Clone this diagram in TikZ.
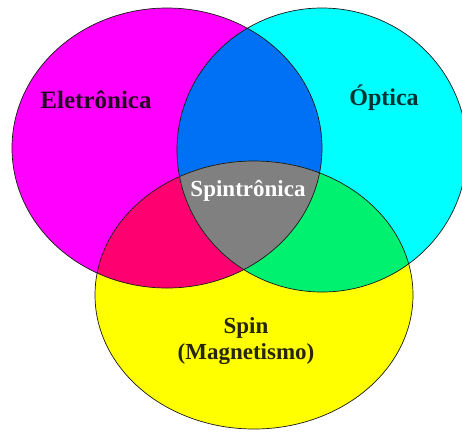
\documentclass[tikz,border=0pt]{standalone}
\usepackage{fontspec}
\setmainfont{Liberation Serif}
\begin{document}
\begin{tikzpicture}[x=1pt,y=-1pt,
  lbl/.style={font=\fontsize{23}{26}\selectfont\bfseries, inner sep=0pt, align=center},
  edge/.style={draw=black!80!gray, line width=0.7pt}]
\useasboundingbox (0,0) rectangle (462,432);
\definecolor{mag}{HTML}{FF00FF}
\definecolor{cya}{HTML}{00FFFF}
\definecolor{yel}{HTML}{FFFF00}
\definecolor{blu}{HTML}{0070F4}
\definecolor{red}{HTML}{FF0070}
\definecolor{grn}{HTML}{00F070}
\definecolor{gry}{HTML}{808080}
\def\pathM{(167,148) ellipse [x radius=155, y radius=140]}
\def\pathC{(322,150) ellipse [x radius=145, y radius=142]}
\def\pathY{(254,295) ellipse [x radius=159, y radius=134]}
% base fills
\fill[mag] \pathM;
\fill[cya] \pathC;
\fill[yel] \pathY;
% pairwise overlaps
\begin{scope}\clip \pathM; \fill[blu] \pathC; \end{scope}
\begin{scope}\clip \pathM; \fill[red] \pathY; \end{scope}
\begin{scope}\clip \pathC; \fill[grn] \pathY; \end{scope}
\begin{scope}\clip \pathM; \clip \pathC; \fill[gry] \pathY; \end{scope}
% outlines
\draw[edge] \pathM;
\draw[edge] \pathC;
\draw[edge] \pathY;
% labels
\node[lbl, font=\fontsize{25}{28}\selectfont\bfseries, text=black!85!mag] (ele) at (96,100) {Eletrônica};
\node[lbl, font=\fontsize{24}{27}\selectfont\bfseries, text=black!80!cya] (opt) at (384,98) {Óptica};
\node[lbl, text=white] (spt) at (248,191) {Spintrônica};
\node[lbl, text=black!85!yel] (spn) at (246,341) {Spin\\[0pt](Magnetismo)};
\end{tikzpicture}
\end{document}
